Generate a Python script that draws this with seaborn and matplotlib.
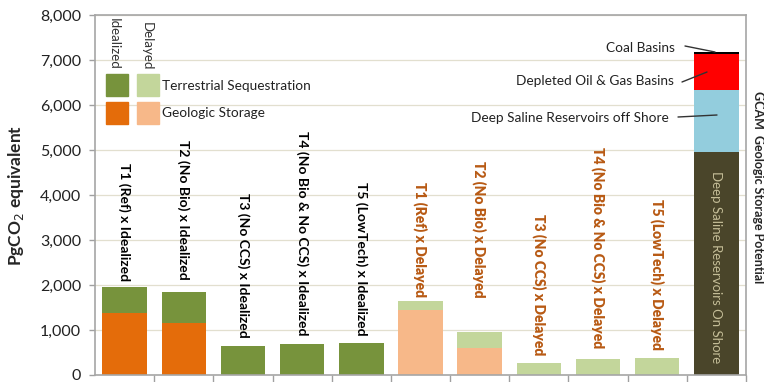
import matplotlib
matplotlib.use("Agg")
import matplotlib.pyplot as plt
import seaborn as sns
import pandas as pd
import numpy as np

# ---- data ----
scenarios = ["T1 (Ref) x Idealized", "T2 (No Bio) x Idealized", "T3 (No CCS) x Idealized",
             "T4 (No Bio & No CCS) x Idealized", "T5 (LowTech) x Idealized",
             "T1 (Ref) x Delayed", "T2 (No Bio) x Delayed", "T3 (No CCS) x Delayed",
             "T4 (No Bio & No CCS) x Delayed", "T5 (LowTech) x Delayed"]
geologic = [1370, 1150, 0, 0, 0, 1440, 590, 0, 0, 0]
terrestrial = [590, 700, 650, 700, 710, 200, 360, 260, 355, 370]
gcam_label = "GCAM  Geologic Storage Potential"
gcam_parts = ["Deep Saline Reservoirs On Shore", "Deep Saline Reservoirs off Shore",
              "Depleted Oil & Gas Basins", "Coal Basins"]
gcam_values = [4960, 1370, 800, 55]
yticks = [0, 1000, 2000, 3000, 4000, 5000, 6000, 7000, 8000]

# ---- styles ----
C_TER_I, C_TER_D = "#77933C", "#C3D69B"
C_GEO_I, C_GEO_D = "#E46C0A", "#F7B889"
GCAM_COLORS = ["#4A452A", "#93CDDD", "#FF0000", "#000000"]
LBL_I, LBL_D = "#000000", "#B85A14"
# label bottom positions (data units) for each scenario label
label_base = [2080, 2110, 820, 880, 880, 1720, 1730, 440, 600, 560]

sns.set_theme(style="white")
plt.rcParams["font.family"] = ["Lato", "DejaVu Sans"]

fig = plt.figure(figsize=(7.64, 3.82), dpi=100)
ax = fig.add_axes([95/764, 7/382, (746-95)/764, (375-15)/382])

cats = scenarios + [gcam_label]
n = len(cats)
is_delayed = [("Delayed" in s) for s in scenarios]

# totals layer (terrestrial on top of geologic)
totals = [g + t for g, t in zip(geologic, terrestrial)]
df_tot = pd.DataFrame({"cat": scenarios, "val": totals})
pal_tot = {s: (C_TER_D if d else C_TER_I) for s, d in zip(scenarios, is_delayed)}
sns.barplot(data=df_tot, x="cat", y="val", hue="cat", order=cats, hue_order=scenarios,
            palette=pal_tot, width=0.75, saturation=1, legend=False, ax=ax, linewidth=0)
df_geo = pd.DataFrame({"cat": scenarios, "val": geologic})
pal_geo = {s: (C_GEO_D if d else C_GEO_I) for s, d in zip(scenarios, is_delayed)}
sns.barplot(data=df_geo, x="cat", y="val", hue="cat", order=cats, hue_order=scenarios,
            palette=pal_geo, width=0.75, saturation=1, legend=False, ax=ax, linewidth=0)

# GCAM stacked bar (drawn top-down with cumulative sums)
cum = np.cumsum(gcam_values)
for k in range(len(gcam_values) - 1, -1, -1):
    dfg = pd.DataFrame({"cat": [gcam_label], "val": [cum[k]]})
    sns.barplot(data=dfg, x="cat", y="val", order=cats, color=GCAM_COLORS[k],
                width=0.75, saturation=1, ax=ax, linewidth=0)

ax.set_ylim(0, 8000)
ax.set_xlim(-0.5, n - 0.5)
ax.set_yticks(yticks)
ax.set_yticklabels([f"{v:,}" for v in yticks], fontsize=11.5, color="#222222")
ax.set_xticks(np.arange(n) + 0.5, minor=False)
ax.set_xticklabels([])
ax.tick_params(axis="x", which="major", length=5, color="#A0A0A0", width=1, direction="out", bottom=True)
ax.tick_params(axis="y", length=4, color="#A0A0A0", width=1, left=True, pad=6)
ax.set_xlabel("")
ax.set_ylabel("PgCO$_2$ equivalent", fontsize=12.5, fontweight="bold", labelpad=10)
ax.yaxis.grid(True, color="#E2DFCF", lw=0.9)
ax.set_axisbelow(True)
for sp in ax.spines.values():
    sp.set_visible(True)
    sp.set_color("#A6A6A6")
    sp.set_linewidth(1.2)

# scenario labels
for i, s in enumerate(scenarios):
    ax.text(i, label_base[i], s, rotation=270, ha="center", va="bottom",
            fontsize=10, fontweight=("heavy" if is_delayed[i] else "bold"),
            color=(LBL_D if is_delayed[i] else LBL_I))

# GCAM side labels
ax.text(n - 1, 2400, gcam_parts[0], rotation=270, ha="center", va="center",
        fontsize=9.5, color="#C4BD97")
fig.text(758/764, 1 - 187/382, gcam_label, rotation=270, ha="center", va="center",
         fontsize=9, fontweight="bold")

def px2x(px):
    return (px - 95) / ((746 - 95) / n) - 0.5

def py2y(py):
    return (375 - py) / 45 * 1000

annots = [
    (gcam_parts[3], 675, 48, (685, 46), (715, 52)),
    (gcam_parts[2], 674, 81, (682, 82), (707, 72)),
    (gcam_parts[1], 669, 118, (678, 117), (717, 115)),
]
for txt, tx, ty, p0, p1 in annots:
    ax.text(px2x(tx), py2y(ty), txt, ha="right", va="center", fontsize=9.8, color="#222222")
    ax.plot([px2x(p0[0]), px2x(p1[0])], [py2y(p0[1]), py2y(p1[1])], color="#333333", lw=1)

# custom legend
def fig_rect(x0, y0, x1, y1, color):
    r = plt.Rectangle((x0/764, 1 - y1/382), (x1-x0)/764, (y1-y0)/382, color=color,
                      transform=fig.transFigure, zorder=5)
    fig.patches.append(r)

fig_rect(106, 74, 128, 96, C_TER_I)
fig_rect(137, 74, 159, 96, C_TER_D)
fig_rect(106, 102, 128, 124, C_GEO_I)
fig_rect(137, 102, 159, 124, C_GEO_D)
fig.text(162/764, 1 - 86/382, "Terrestrial Sequestration", ha="left", va="center", fontsize=9.8, color="#222222")
fig.text(162/764, 1 - 113/382, "Geologic Storage", ha="left", va="center", fontsize=9.8, color="#222222")
fig.text(114/764, 1 - 18/382, "Idealized", rotation=270, ha="center", va="top", fontsize=9.5, color="#333333")
fig.text(147/764, 1 - 22/382, "Delayed", rotation=270, ha="center", va="top", fontsize=9.5, color="#333333")

fig.savefig("out.png", dpi=100)
